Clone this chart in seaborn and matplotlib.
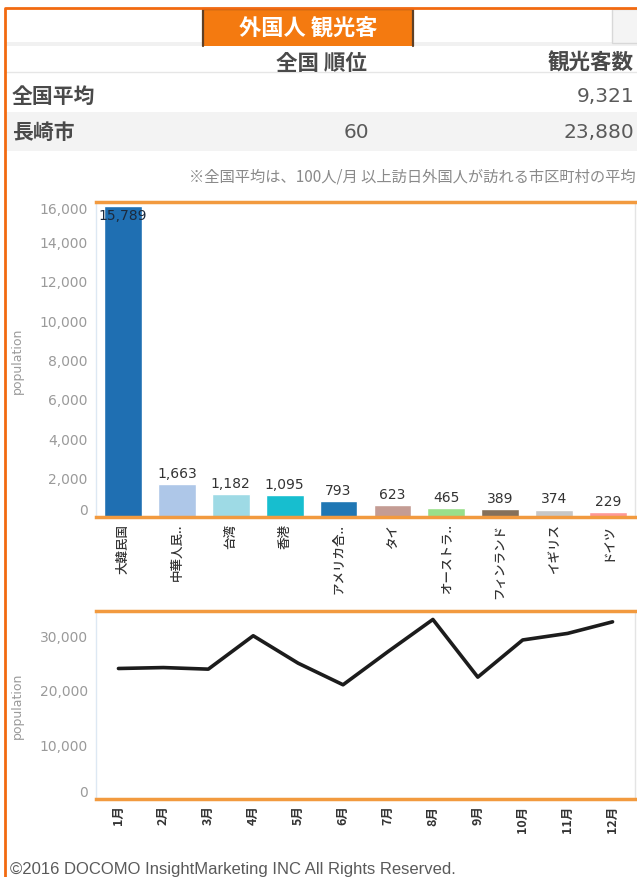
import matplotlib
matplotlib.use("Agg")
import matplotlib.pyplot as plt
import seaborn as sns
import pandas as pd
from matplotlib.patches import Rectangle
from matplotlib.lines import Line2D

# ---- data -------------------------------------------------------------
countries = ["大韓民国", "中華人民..", "台湾", "香港", "アメリカ合..",
             "タイ", "オーストラ..", "フィンランド", "イギリス", "ドイツ"]
country_visitors = [15789, 1663, 1182, 1095, 793, 623, 465, 389, 374, 229]
bar_colors = ["#1f6fb2", "#aec7e8", "#9edae5", "#17becf", "#1f77b4",
              "#c49c94", "#98df8a", "#85705a", "#c7c7c7", "#ff9896"]

months = ["1月", "2月", "3月", "4月", "5月", "6月",
          "7月", "8月", "9月", "10月", "11月", "12月"]
month_visitors = [23880, 24050, 23760, 29870, 24850, 20900,
                  26960, 32850, 22300, 29100, 30300, 32420]

bar_ticks = [0, 2000, 4000, 6000, 8000, 10000, 12000, 14000, 16000]
line_ticks = [0, 10000, 20000, 30000]

title_text = "外国人 観光客"
col_rank = "全国 順位"
col_count = "観光客数"
avg_label = "全国平均"
national_avg = 9321
city_name = "長崎市"
city_rank = 60
city_total = 23880
note_text = "※全国平均は、100人/月 以上訪日外国人が訪れる市区町村の平均"
footer_text = "©2016 DOCOMO InsightMarketing INC All Rights Reserved."

# ---- style ------------------------------------------------------------
sns.set_theme(style="white")
plt.rcParams["font.family"] = ["Noto Sans CJK JP", "DejaVu Sans"]

W, H = 637, 878
fig = plt.figure(figsize=(W / 100, H / 100), dpi=100)
fig.patch.set_facecolor("white")


def fx(px):
    return px / W


def fy(py):
    return 1 - py / H


def rect(x0, y0, x1, y1, **kw):
    fig.add_artist(Rectangle((fx(x0), fy(y1)), fx(x1) - fx(x0), fy(y0) - fy(y1),
                             transform=fig.transFigure, **kw))


def polyline(xs, ys, **kw):
    fig.add_artist(Line2D([fx(x) for x in xs], [fy(y) for y in ys],
                          transform=fig.transFigure, **kw))


ORANGE = "#f29a3f"

# ---- header table -----------------------------------------------------
rect(6, 43, 637, 47, facecolor="#f1f1f1", edgecolor="none")
polyline([6, 637], [73, 73], color="#e6e6e6", linewidth=1)
rect(6, 113, 637, 152, facecolor="#f3f3f3", edgecolor="none")
rect(203, 10, 413, 47, facecolor="#f47a10", edgecolor="none")
polyline([203, 203, 413, 413], [47, 10, 10, 47], color="#5e4026", linewidth=1.6)
rect(612, 10, 640, 44, facecolor="#f4f4f4", edgecolor="#d8d8d8", linewidth=1)

fig.text(fx(308), fy(29), title_text, color="white", fontsize=16,
         fontweight="bold", ha="center", va="center")
fig.text(fx(321), fy(63), col_rank, color="#4a4a4a", fontsize=15.5,
         fontweight="bold", ha="center", va="center")
fig.text(fx(634), fy(63), col_count, color="#4a4a4a", fontsize=15.5,
         fontweight="bold", ha="right", va="center")
fig.text(fx(12), fy(96), avg_label, color="#4a4a4a", fontsize=15,
         fontweight="bold", ha="left", va="center")
fig.text(fx(634), fy(96), f"{national_avg:,}", color="#5a5a5a", fontsize=14.5,
         family="DejaVu Sans", ha="right", va="center")
fig.text(fx(12), fy(132), city_name, color="#4a4a4a", fontsize=15,
         fontweight="bold", ha="left", va="center")
fig.text(fx(356), fy(132), f"{city_rank}", color="#5a5a5a", fontsize=14.5,
         family="DejaVu Sans", ha="center", va="center")
fig.text(fx(634), fy(132), f"{city_total:,}", color="#5a5a5a", fontsize=14.5,
         family="DejaVu Sans", ha="right", va="center")
fig.text(fx(636), fy(177), note_text, color="#8a8a8a", fontsize=11,
         ha="right", va="center")

# ---- bar chart: visitors by country ----------------------------------
ax1 = fig.add_axes([fx(96), fy(518), fx(635) - fx(96), fy(203) - fy(518)])
df_c = pd.DataFrame({"country": countries, "population": country_visitors})
sns.barplot(data=df_c, x="country", y="population", hue="country",
            palette=bar_colors, legend=False, width=0.7, saturation=1,
            ax=ax1)
ax1.set_xlim(-0.5, len(countries) - 0.5)
ax1.set_ylim(bar_ticks[0], bar_ticks[-1])

for i, v in enumerate(country_visitors):
    if v > 0.9 * bar_ticks[-1]:
        ax1.annotate(f"{v:,}", (i, v), xytext=(0, -1), textcoords="offset points",
                     ha="center", va="top", fontsize=10, color="#1c2a3c",
                     family="DejaVu Sans")
    else:
        ax1.annotate(f"{v:,}", (i, v), xytext=(0, 3), textcoords="offset points",
                     ha="center", va="bottom", fontsize=10, color="#333333",
                     family="DejaVu Sans")

# ---- line chart: visitors by month ------------------------------------
ax2 = fig.add_axes([fx(96), fy(800), fx(635) - fx(96), fy(612) - fy(800)])
df_m = pd.DataFrame({"month": months, "population": month_visitors})
sns.lineplot(data=df_m, x="month", y="population", sort=False,
             color="#1c1c1c", linewidth=2.6, ax=ax2)
ax2.set_xlim(-0.5, len(months) - 0.5)
ax2.set_ylim(0, 34400)

# ---- shared axis styling ----------------------------------------------
for ax, ticks, top_inside, xweight in ((ax1, bar_ticks, True, "medium"),
                                       (ax2, line_ticks, False, "bold")):
    ax.set_facecolor("white")
    ax.set_yticks(ticks, labels=[f"{t:,}" for t in ticks],
                  fontfamily="DejaVu Sans")
    labels = ax.get_yticklabels()
    labels[0].set_va("bottom")
    if top_inside:
        labels[-1].set_va("top")
    ax.tick_params(axis="y", length=0, pad=6, labelsize=10, labelcolor="#9a9a9a")
    ax.tick_params(axis="x", length=0, pad=4, labelsize=9, labelcolor="#333333",
                   labelrotation=90)
    for lbl in ax.get_xticklabels():
        lbl.set_fontweight(xweight)
    ax.set_xlabel("")
    ax.set_ylabel("population", fontsize=9, color="#9a9a9a",
                  fontfamily="DejaVu Sans")
    ax.yaxis.set_label_coords(-0.134, 0.5)
    ax.grid(False)
    for side in ("top", "bottom"):
        ax.spines[side].set_color(ORANGE)
        ax.spines[side].set_linewidth(2.5)
    ax.spines["left"].set_color("#dde8f3")
    ax.spines["left"].set_linewidth(1)
    ax.spines["right"].set_color("#e4e4e4")
    ax.spines["right"].set_linewidth(1)

# ---- page frame and footer -------------------------------------------
polyline([5, 5, 637], [878, 9, 9], color="#f26a10", linewidth=2)
fig.text(fx(10), fy(870), footer_text, color="#5a5a5a", fontsize=12,
         family="Liberation Sans", ha="left", va="center")

fig.savefig("out.png", dpi=100)
